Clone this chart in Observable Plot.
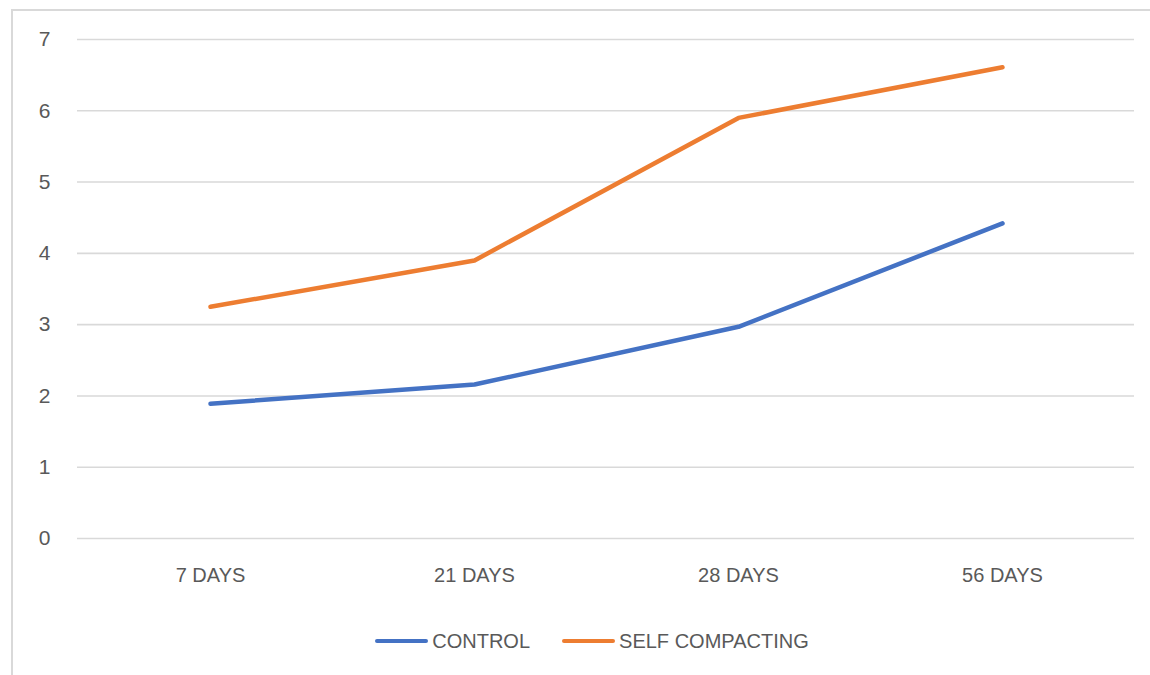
<!DOCTYPE html>
<html>
<head>
<meta charset="utf-8">
<script src="https://cdn.jsdelivr.net/npm/d3@7"></script>
<script src="https://cdn.jsdelivr.net/npm/@observablehq/plot@0.6"></script>
<style>
  html, body { margin: 0; padding: 0; background: #fff; }
  #page { position: relative; width: 1150px; height: 675px; overflow: hidden; font-family: "Liberation Sans", Arial, sans-serif; color: #595959; }
  #frame { position: absolute; left: 11px; top: 9px; width: 1300px; height: 900px; border-left: 2px solid #d9d9d9; border-top: 2px solid #d9d9d9; }
  #chart { position: absolute; left: 0; top: 0; }
  #legend { position: absolute; left: 17px; top: 625px; width: 1150px; height: 32px; display: flex; justify-content: center; align-items: center; font-size: 20px; color: #595959; }
  .item { display: flex; align-items: center; margin: 0 16px; }
  .swatch { width: 53px; height: 4.5px; border-radius: 2px; margin-right: 4px; }
</style>
</head>
<body>
<div id="page">
  <div id="frame"></div>
  <div id="chart"></div>
  <div id="legend"></div>
</div>
<script>
const categories = ["7 DAYS", "21 DAYS", "28 DAYS", "56 DAYS"];
const seriesNames = ["CONTROL", "SELF COMPACTING"];
const controlValues = [1.89, 2.16, 2.97, 4.42];
const selfCompactingValues = [3.25, 3.90, 5.90, 6.61];
const yTicks = [0, 1, 2, 3, 4, 5, 6, 7];
const colors = ["#4472C4", "#ED7D31"];

const rows = [];
categories.forEach((c, i) => {
  rows.push({ cat: c, value: controlValues[i], series: seriesNames[0] });
  rows.push({ cat: c, value: selfCompactingValues[i], series: seriesNames[1] });
});

const plot = Plot.plot({
  width: 1150,
  height: 600,
  marginTop: 39,
  marginBottom: 62,
  marginLeft: 77,
  marginRight: 16,
  style: { fontFamily: "'Liberation Sans', Arial, sans-serif", fontSize: "20px", color: "#595959", background: "transparent" },
  x: { type: "point", domain: categories, padding: 0.5, label: null },
  y: { domain: [0, 7], label: null },
  color: { domain: seriesNames, range: colors },
  marks: [
    Plot.gridY(yTicks, { stroke: "#d9d9d9", strokeOpacity: 1, strokeWidth: 1.6 }),
    Plot.axisY(yTicks, { tickSize: 0, tickPadding: 27, tickFormat: d3.format("d"), fill: "#595959", fontSize: 21 }),
    Plot.axisX({ tickSize: 0, tickPadding: 29, fill: "#595959", fontSize: 20 }),
    Plot.line(rows, { x: "cat", y: "value", z: "series", stroke: "series", strokeWidth: 4.5, strokeLinecap: "round", strokeLinejoin: "round" })
  ]
});
document.getElementById("chart").appendChild(plot);

const legend = document.getElementById("legend");
seriesNames.forEach((name, i) => {
  const item = document.createElement("div");
  item.className = "item";
  const sw = document.createElement("div");
  sw.className = "swatch";
  sw.style.background = colors[i];
  const label = document.createElement("span");
  label.textContent = name;
  item.appendChild(sw);
  item.appendChild(label);
  legend.appendChild(item);
});
</script>
</body>
</html>
